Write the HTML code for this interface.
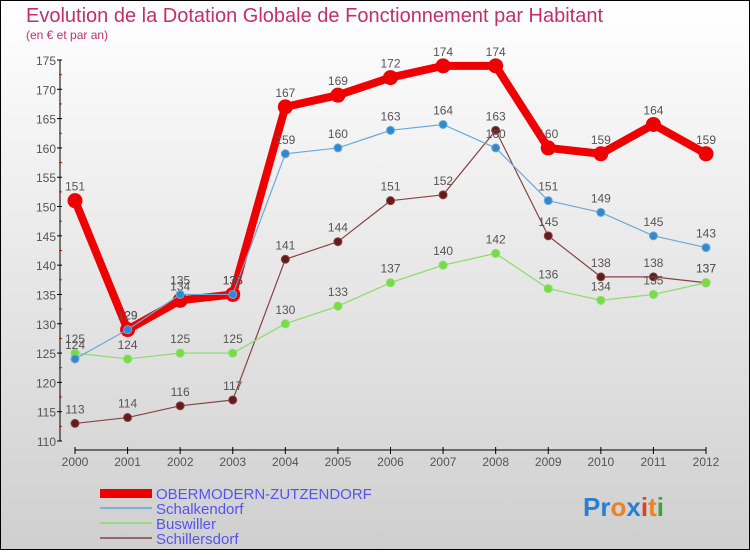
<!DOCTYPE html>
<html><head><meta charset="utf-8"><style>
html,body{margin:0;padding:0}
body{width:750px;height:550px;overflow:hidden;font-family:"Liberation Sans",sans-serif}
svg text{font-family:"Liberation Sans",sans-serif}
</style></head><body>
<svg id="c" width="750" height="550" xmlns="http://www.w3.org/2000/svg">
<defs><linearGradient id="bg" x1="0" y1="0" x2="0" y2="1"><stop offset="0" stop-color="#ffffff"/><stop offset="1" stop-color="#cfcfcf"/></linearGradient></defs>
<rect x="0.5" y="0.5" width="749" height="549" fill="url(#bg)" stroke="#000"/>
<text x="26" y="22" font-size="20" fill="#c0306a">Evolution de la Dotation Globale de Fonctionnement par Habitant</text>
<text x="26" y="39" font-size="12" fill="#c0306a">(en € et par an)</text>
<g id="axes"></g><g id="series"></g>
<g>
<rect x="100" y="489" width="52" height="9" fill="#e00"/>
<text x="156" y="499" font-size="15" fill="#5555ee">OBERMODERN-ZUTZENDORF</text>
<rect x="100" y="507" width="52" height="2" fill="#7fb0d0"/>
<text x="156" y="514" font-size="15" fill="#5555ee">Schalkendorf</text>
<rect x="100" y="522" width="52" height="2" fill="#99dd77"/>
<text x="156" y="529" font-size="15" fill="#5555ee">Buswiller</text>
<rect x="100" y="537" width="52" height="2" fill="#996666"/>
<text x="156" y="544" font-size="15" fill="#5555ee">Schillersdorf</text>
</g>
<text x="583" y="516" font-size="26" font-weight="bold"><tspan fill="#2a7fd0">Pr</tspan><tspan fill="#f08020">o</tspan><tspan fill="#2a7fd0">x</tspan><tspan fill="#e04020">i</tspan><tspan fill="#f08020">t</tspan><tspan fill="#40a040">i</tspan></text>
</svg>
<script>
const years=[2000,2001,2002,2003,2004,2005,2006,2007,2008,2009,2010,2011,2012];
const yTicks=[110,115,120,125,130,135,140,145,150,155,160,165,170,175];
const ober=[151,129,134,135,167,169,172,174,174,160,159,164,159];
const schalk=[124,129,135,135,159,160,163,164,160,151,149,145,143];
const busw=[125,124,125,125,130,133,137,140,142,136,134,135,137];
const schill=[113,114,116,117,141,144,151,152,163,145,138,138,137];
const NS="http://www.w3.org/2000/svg";
const X=i=>75+i*(706-75)/(years.length-1);
const Y=v=>441-(v-110)*(381/65);
function mk(t,a,p){const e=document.createElementNS(NS,t);for(const k in a)e.setAttribute(k,a[k]);p.appendChild(e);return e;}
const ax=document.getElementById('axes');
let e=mk('line',{x1:60,y1:Y(175),x2:60,y2:Y(110),stroke:'#000'},ax);


yTicks.forEach(v=>{
 mk('line',{x1:57,x2:62,y1:Y(v),y2:Y(v),stroke:'#000'},ax);
 if(v<175)mk('line',{x1:59,x2:62,y1:Y(v+2.5),y2:Y(v+2.5),stroke:'#e00'},ax);
 const t=mk('text',{x:56,y:Y(v)+5,'font-size':12,fill:'#555','text-anchor':'end'},ax);t.textContent=v;
 
 
});
e=mk('line',{x1:X(0),y1:450,x2:X(12),y2:450,stroke:'#000'},ax);


years.forEach((y,i)=>{
 mk('line',{x1:X(i),x2:X(i),y1:447,y2:454,stroke:'#000'},ax);
 const t=mk('text',{x:X(i),y:466,'font-size':12,fill:'#555','text-anchor':'middle'},ax);t.textContent=y;
 
 
});
const sg=document.getElementById('series');
function series(d,name,col,w,r,dot){
 const g=mk('g',{},sg);
 
 
 mk('polyline',{points:d.map((v,i)=>X(i)+','+Y(v)).join(' '),fill:'none',stroke:col,'stroke-width':w,'stroke-linejoin':'round'},g);
 d.forEach((v,i)=>{
  const c=mk('circle',{cx:X(i),cy:Y(v),r:r,fill:dot,stroke:col,'stroke-width':1},g);
  
  
  const t=mk('text',{x:X(i),y:Y(v)-10,'font-size':12,fill:'#555','text-anchor':'middle'},g);t.textContent=v;
  
  
 });
}
series(schill,'schillersdorf','#884444',1.2,4,'#661a1a');
series(busw,'buswiller','#88dd66',1.2,4,'#77dd44');
series(ober,'obermodern','#ee0000',8,7,'#ee0000');
series(schalk,'schalkendorf','#6aaad8',1.2,4,'#3388cc');
</script>
</body></html>
